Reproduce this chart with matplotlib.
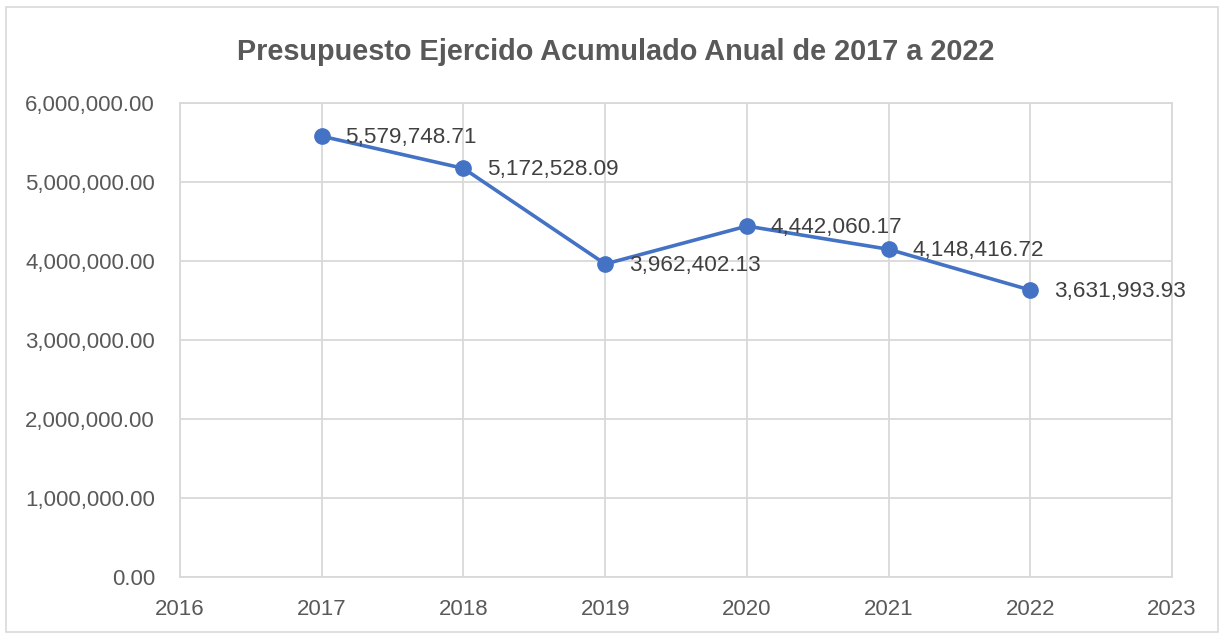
import matplotlib.pyplot as plt
from matplotlib.patches import Rectangle
from matplotlib.ticker import FuncFormatter

years = [2017, 2018, 2019, 2020, 2021, 2022]
values = [5579748.71, 5172528.09, 3962402.13, 4442060.17, 4148416.72, 3631993.93]
title = 'Presupuesto Ejercido Acumulado Anual de 2017 a 2022'

plt.rcParams['font.family'] = ['Liberation Sans', 'DejaVu Sans']

fig = plt.figure(figsize=(12.24, 6.39), dpi=100)
ax = fig.add_axes([0.1471, 0.0970, 0.8105, 0.7418])

# outer chart frame
fig.patches.append(Rectangle((6/1224, 7/639), 1212/1224, 625/639, transform=fig.transFigure,
                             fill=False, edgecolor='#d9d9d9', linewidth=1.2))

ax.plot(years, values, '-o', color='#4472c4', linewidth=2.6, markersize=11, zorder=3, clip_on=False)
for x, y in zip(years, values):
    ax.annotate('{:,.2f}'.format(y), (x, y), xytext=(17, -1), textcoords='offset points',
                ha='left', va='center', fontsize=16.2, color='#404040', zorder=4)

ax.set_xlim(2016, 2023)
ax.set_ylim(0, 6000000)
ax.set_xticks(range(2016, 2024))
ax.set_yticks(range(0, 6000001, 1000000))
ax.yaxis.set_major_formatter(FuncFormatter(lambda v, p: '{:,.2f}'.format(v)))
ax.grid(True, color='#d9d9d9', linewidth=1.3)
ax.set_axisbelow(True)
for s in ax.spines.values():
    s.set_color('#d9d9d9')
    s.set_linewidth(1.3)
ax.tick_params(length=0, labelsize=16, colors='#595959')
ax.tick_params(axis='y', pad=18)
ax.tick_params(axis='x', pad=16)

fig.text(0.503, 0.918, title, ha='center', va='center', fontsize=20.8, fontweight='bold', color='#595959')

plt.savefig('out.png', dpi=100)
